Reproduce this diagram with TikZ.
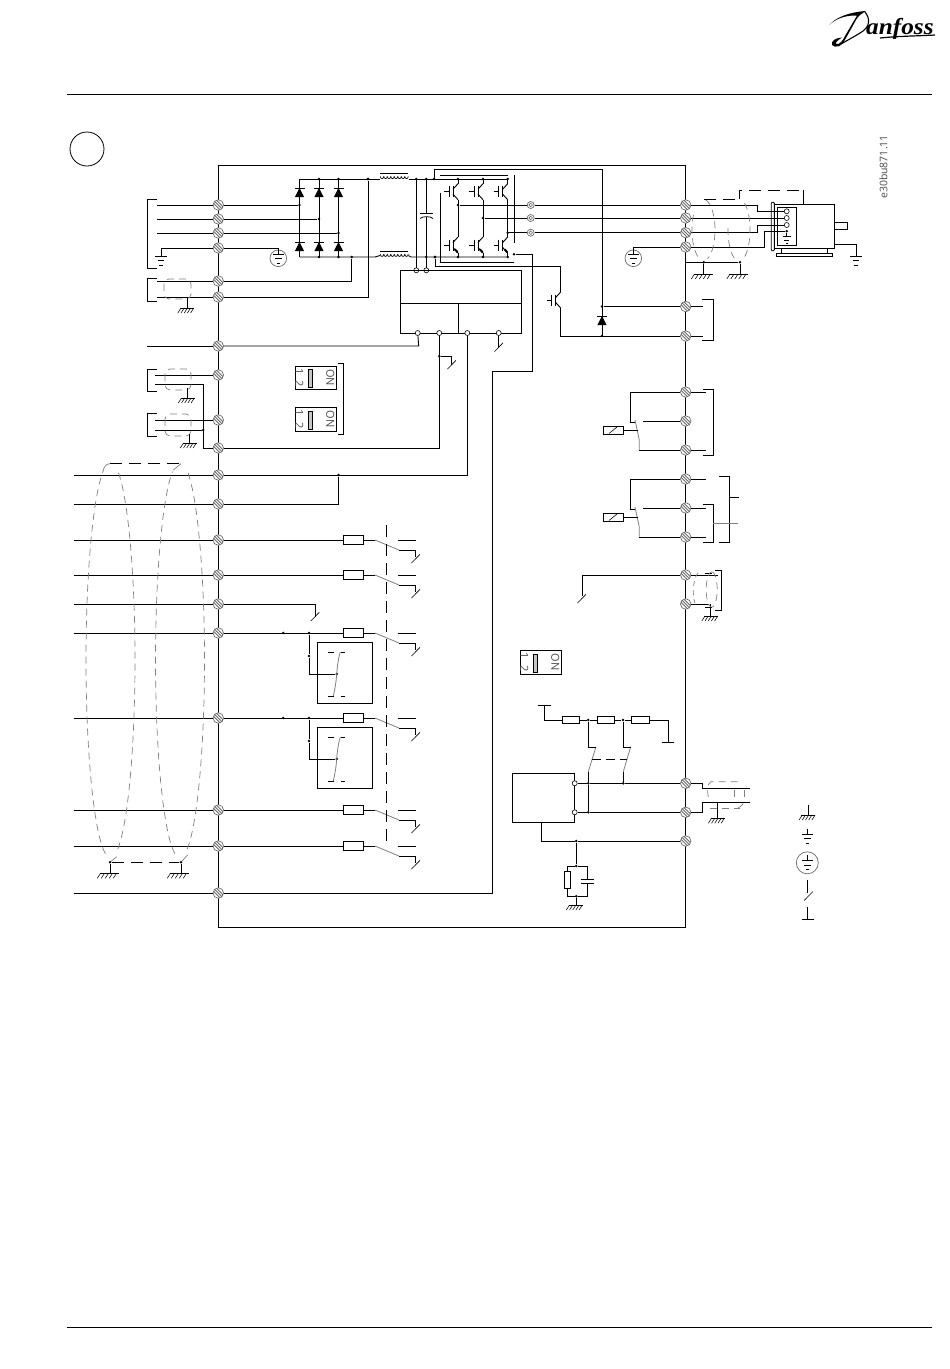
\documentclass[tikz,border=0pt]{standalone}
\usepackage{fontspec}
\usepackage{graphicx}
\setmainfont{Open Sans}
\newfontfamily\logofont{Liberation Serif}
\definecolor{tgray}{gray}{0.42}
\definecolor{sgray}{gray}{0.5}
\definecolor{textgray}{gray}{0.3}
\tikzset{
  wire/.style={line width=0.9pt,black},
  gwire/.style={line width=0.8pt,sgray},
  shld/.style={line width=0.7pt,sgray,dash pattern=on 7pt off 5pt},
  bdash/.style={line width=0.9pt,black,dash pattern=on 12pt off 7pt},
  term/.style={circle,draw=tgray,fill=white,inner sep=0pt,minimum size=10.5pt,line width=0.7pt,
    path picture={\draw[tgray,line width=0.9pt] (-6,-9)--(6,3) (-6,-6)--(6,6) (-6,-3)--(6,9);}},
  opn/.style={circle,draw=black,fill=white,inner sep=0pt,minimum size=5pt,line width=0.6pt},
  outc/.style={circle,draw=tgray,fill=white,inner sep=0pt,minimum size=7pt,line width=0.7pt,
    path picture={\draw[tgray,line width=0.6pt] (0,0) circle[radius=1.8pt];}},
  jdot/.style={circle,fill=black,inner sep=0pt,minimum size=2.8pt},
  fusebox/.style={rectangle,draw=black,fill=white,inner sep=0pt,minimum width=20.5pt,minimum height=8.5pt,line width=0.85pt},
  resbox/.style={rectangle,draw=black,fill=white,inner sep=0pt,minimum width=17.5pt,minimum height=6.5pt,line width=0.85pt},
  diptext/.style={font=\fontsize{11}{11}\selectfont,text=textgray,rotate=-90,inner sep=0pt},
  pics/hgnd/.style={code={
    \draw[wire] (-7,0)--(7,0);
    \foreach \k in {-6,-2.8,0.4,3.6,6.8} {\draw[line width=0.55pt] (\k,0)--(\k-3.2,5);}
  }},
  pics/hgndw/.style={code={
    \draw[wire] (-9.5,0)--(9.5,0);
    \foreach \k in {-8.5,-4.5,-0.5,3.5,7.5} {\draw[line width=0.55pt] (\k,0)--(\k-3.2,5);}
  }},
  pics/egnd/.style={code={
    \draw[wire] (-5.7,0)--(5.7,0) (-3.3,4.6)--(3.3,4.6) (-1.7,9)--(1.7,9);
  }},
  pics/slash/.style={code={\draw[line width=0.6pt] (-4.3,4.4)--(4.3,-4.4);}},
  pics/diodeup/.style={code={
    \draw[wire] (-5,0)--(5,0);
    \fill (0,0)--(4.6,9)--(-4.6,9)--cycle;
  }},
  pics/igbt/.style={code={
    \draw[wire] (-14,0)--(-9,0) (-9,-5.5)--(-9,5.5) (-5,-5.5)--(-5,5.5);
    \draw[wire] (-5,-2.5)--(0,-8) (-5,2.5)--(0,8);
  }},
  pics/igbtarrow/.style={code={\draw[line width=2pt] (-3.2,4.2)--(-0.4,7.3);}},
}
\newcommand{\indcoil}[2]{%
  \foreach \cx in {0,3.5,...,24.5} {
    \draw[line width=0.7pt] ({#1+\cx},#2) .. controls ({#1+\cx+0.3},{#2+2.8}) and ({#1+\cx+3.2},{#2+2.8}) .. ({#1+\cx+3.5},#2);
  }%
}
\newcommand{\lobe}[6]{\draw[shld] plot[domain=#5:#6,samples=70] ({#1+#3*cos(\x)},{#2-#4*sin(\x)});}
\newcommand{\fuserow}[2]{%
  \node[fusebox] (#1f) at (353.5,#2) {};
  \draw[wire] (#1) -- (#1f);
  \draw[wire] (#1f) -- (375,#2);
  \draw[gwire] (375,#2) -- (399,{#2+10});
  \draw[wire] (399,{#2+10}) -- (415.7,{#2+10}) -- (415.7,{#2+17});
  \draw[wire] (398.3,#2) -- (415.7,#2);
  \pic at (415.7,{#2+18.7}) {slash};
}
\newcommand{\nrelay}[4]{% #1 top terminal, #2 mid terminal, #3 bottom terminal, #4 offset
  \draw[wire] (#1) -- (630.3,{392+#4}) -- (630.3,{422.3+#4}) -- (635,{422.3+#4});
  \draw[gwire] (635,{420+#4}) -- (639.3,{440+#4}) -- (639.3,{450+#4});
  \draw[wire] (639.3,{450+#4}) -- (#3);
  \draw[wire] (#2) -- (643.3,{421+#4});
  \node[rectangle,draw=black,fill=white,minimum width=20pt,minimum height=8pt,inner sep=0pt,line width=0.85pt] (coil#4) at (613.3,{430.3+#4}) {};
  \draw[line width=0.6pt] (609,{433.5+#4}) -- (617,{427+#4});
  \draw[wire] (coil#4) -- (637.7,{430.3+#4});
}
\newcommand{\dipswitch}[3]{% name, x left, y top
  \node[rectangle,draw=black,line width=0.8pt,minimum width=41pt,minimum height=23.5pt,inner sep=0pt] (#1) at ({#2+20.5},{#3+11.75}) {};
  \fill[gray!45] ({#2+13},{#3+3.5}) rectangle ({#2+16.5},{#3+21.5});
  \draw[line width=0.6pt] ({#2+13},{#3+3.5}) rectangle ({#2+16.5},{#3+21.5});
  \node[diptext] at ({#2+4},{#3+11.75}) {1\hspace{3.6pt} 2};
  \node[diptext] at ({#2+35},{#3+11.75}) {ON};
}
\newcommand{\logicsw}[2]{% terminal, y
  \node[jdot] (#1a) at (283.3,#2) {};
  \node[jdot] (#1b) at (309,#2) {};
  \node[rectangle,draw=black,line width=0.85pt,minimum width=54.6pt,minimum height=61pt,inner sep=0pt] (#1box) at (345,{#2+39.5}) {};
  \node[jdot] (#1c) at (309,{#2+23}) {};
  \node[jdot] (#1d) at (336.7,{#2+41}) {};
  \draw[wire] (#1b) -- (#1c);
  \draw[wire] (#1c) -- (309,{#2+41}) -- (#1d);
  \draw[gwire] (340.3,{#2+19}) .. controls (337.5,{#2+28}) and (337,{#2+38}) .. (336.7,{#2+41}) .. controls (336.3,{#2+48}) and (335,{#2+56}) .. (333.3,{#2+63});
  \draw[wire] (328,{#2+19}) -- (334,{#2+19}) (341,{#2+19}) -- (345.3,{#2+19});
  \draw[wire] (328,{#2+63}) -- (334,{#2+63}) (341,{#2+63}) -- (345.3,{#2+63});
}
\begin{document}
\begin{tikzpicture}[x=1pt,y=-1pt]
\useasboundingbox (0,0) rectangle (950,1369);
\fill[white] (0,0) rectangle (950,1369);

% header / footer
\node[inner sep=0pt,minimum width=865pt,minimum height=0pt] (headrule) at (499.5,94.7) {};
\draw[line width=0.8pt] (headrule.west) -- (headrule.east);
\node[inner sep=0pt,minimum width=865pt,minimum height=0pt] (footrule) at (499.5,1327.7) {};
\draw[line width=0.8pt] (footrule.west) -- (footrule.east);
\node[circle,draw=black,line width=0.8pt,minimum size=34pt,inner sep=0pt] (badge) at (87,149) {};
\node[rotate=90,font=\fontsize{10.5}{11}\selectfont,text=textgray,inner sep=0pt] (code) at (883.5,167) {e30bu871.11};

% logo
\fill[black] (829.3,25) .. controls (836,17) and (850,12) .. (866,11) .. controls (861,14) and (858,16) .. (856,20)
  -- (846,38) .. controls (842,46) and (835,49) .. (832,45) .. controls (831,41) and (835,38) .. (842,37.5)
  .. controls (839,39.5) and (835,42) .. (836,44) .. controls (840,45) and (843,40) .. (845,36)
  -- (857,15.5) .. controls (846,15) and (835,19) .. (829.3,25) -- cycle;
\draw[line width=1.1pt] (865,12) .. controls (870,18) and (871,27) .. (860,33) .. controls (852,38) and (844,42) .. (838,46);
\node[inner sep=0pt,anchor=base west] (logotext) at (866,34) {\scalebox{1.1}[1]{\logofont\bfseries\itshape\fontsize{23}{23}\selectfont anfoss}};
\draw[line width=1.2pt] (880,38) .. controls (900,36) and (918,36) .. (935,35);

% frame
\node[rectangle,draw=black,line width=0.9pt,minimum width=467.5pt,minimum height=761.5pt,inner sep=0pt] (frame) at (452,546.25) {};

% terminals
\foreach \n/\yy in {L1/205,L2/219,L3/233,L4/248,L5/281,L6/297,L7/346,L8/375,L9/420,L10/448,L11/475,L12/504,L13/540,L14/575,L15/604,L16/633,L17/718,L18/810,L19/846,L20/893}
  {\node[term] (\n) at (218.3,\yy) {};}
\foreach \n/\yy in {R1/205,R2/218,R3/232.7,R4/247,R5/306.5,R6/336,R7/392,R8/421,R9/450,R10/479,R11/508,R12/537,R13/575,R14/604,R15/783.3,R16/812.3,R17/841}
  {\node[term] (\n) at (685.7,\yy) {};}

% mains bracket and wires
\draw[wire] (157,199) -- (147.5,199) -- (147.5,268) -- (157,268);
\foreach \n/\yy in {L1/205,L2/219,L3/233} {\draw[wire] (157,\yy) -- (\n);}
\draw[wire] (L4) -- (161,248) -- (161,256);
\pic at (161,256) {egnd};
\node[circle,draw=tgray,line width=0.7pt,minimum size=16.6pt,inner sep=0pt] (earthL) at (278.3,258.3) {};
\draw[wire] (L4) -- (278.3,248) -- (278.3,254);
\pic at (278.3,254) {egnd};

% rectifier
\foreach \n/\xx/\yy in {a/299.5/205,b/319/219,c/338.5/233}{
  \node[jdot] (rec\n) at (\xx,\yy) {};
  \draw[wire] (\xx,179) -- (\xx,256.7);
  \pic at (\xx,188) {diodeup};
  \pic at (\xx,242) {diodeup};
}
\draw[wire] (L1) -- (reca);
\draw[wire] (L2) -- (recb);
\draw[wire] (L3) -- (recc);
\foreach \xx in {319,338.5,368,416.3,426.3,434,458,483,507.7} {\node[jdot] at (\xx,179) {};}
\foreach \xx in {319,338.5,426.3,435,458,483,507.7} {\node[jdot] at (\xx,257) {};}
\node[jdot] (botj) at (351.7,257) {};
\node[jdot] (topj) at (368,179) {};
\draw[wire] (299.5,179) -- (380,179);
\draw[wire] (408.5,179) -- (507.7,179);
\draw[wire] (299.5,257) -- (375,257) -- (380,255.5);
\draw[wire] (408.5,255.5) -- (411,257) -- (508,257);
\draw[wire] (380.3,173.5) -- (408.3,173.5);
\draw[wire] (380.3,251.5) -- (408.3,251.5);
\indcoil{380.3}{176.5}
\indcoil{380.3}{254.3}

% shielded brake input
\draw[wire] (157,278) -- (147.5,278) -- (147.5,301) -- (157,301);
\draw[wire] (157,281) -- (L5);
\draw[wire] (157,297) -- (L6);
\draw[shld,rounded corners=5pt] (164,279) rectangle (191,299);
\draw[wire] (187,298) -- (187,308);
\pic at (187,308) {hgnd};
\draw[wire] (L5) -- (351.7,281) -- (botj);
\draw[wire] (L6) -- (368,297) -- (topj);

% DC link
\node[opn] (dca) at (416.3,270.3) {};
\node[opn] (dcb) at (426.3,270.3) {};
\draw[wire] (416.3,179) -- (dca);
\draw[wire] (426.3,179) -- (426.3,213.7);
\draw[wire] (420,213.7) -- (433,213.7);
\draw[line width=0.75pt] (420,218.5) .. controls (423,216) and (430,216) .. (433,218.5);
\draw[wire] (426.3,216.8) -- (dcb);

% control box
\node[rectangle,draw=black,line width=0.85pt,minimum width=121pt,minimum height=62.7pt,inner sep=0pt] (ctrl) at (460.8,301.65) {};
\draw[wire] (ctrl.west |- 0,303.3) -- (ctrl.east |- 0,303.3);
\draw[wire] (458.3,303.3) -- (458.3,333);
\node[opn] (cb1) at (417.7,333) {};
\node[opn] (cb2) at (439.3,333) {};
\node[opn] (cb3) at (467.3,333) {};
\node[opn] (cb4) at (498.7,333) {};
\draw[wire] (L7) -- (418.7,346) -- (cb1);
\draw[wire] (147,346) -- (L7);
\draw[wire] (L10) -- (439.3,448) -- (cb2);
\draw[wire] (L11) -- (467.3,475) -- (cb3);
\node[jdot] (cbj) at (439.3,356.3) {};
\draw[wire] (cbj) -- (451.7,356.3) -- (451.7,365);
\pic at (451.7,364.7) {slash};
\draw[wire] (cb4) -- (498.7,347);
\pic at (498.7,347.2) {slash};

% inverter
\draw[wire] (458,179) -- (458,184);
\draw[wire] (483,179) -- (483,184);
\draw[wire] (507.7,179) -- (507.7,184);
\foreach \xx in {458,483,507.7}{
  \pic at (\xx,191.7) {igbt};
  \pic at (\xx,245) {igbt};
  \pic at (\xx,245) {igbtarrow};
  \draw[wire] (\xx,199.7) -- (\xx,237);
  \draw[wire] (\xx,253) -- (\xx,257);
}
\draw[wire] (440,175) -- (508.3,175);
\draw[wire] (514.3,175) -- (514.3,243);
\draw[wire] (440,193.3) -- (440,262.3) -- (514.3,262.3);
\node[jdot] (oa) at (458,205) {};
\node[jdot] (ob) at (483,218) {};
\node[jdot] (oc) at (507.7,232.7) {};
\node[outc] (ca) at (530.7,205) {};
\node[outc] (cb) at (530.7,218) {};
\node[outc] (cc) at (530.7,232.7) {};
\draw[wire] (oa) -- (ca);
\draw[wire] (ob) -- (cb);
\draw[wire] (oc) -- (cc);
\draw[wire] (ca) -- (R1);
\draw[wire] (cb) -- (R2);
\draw[wire] (cc) -- (R3);
% earth on the right
\node[circle,draw=tgray,line width=0.7pt,minimum size=16.6pt,inner sep=0pt] (earthR) at (633.3,258.3) {};
\draw[wire] (R4) -- (633.3,247) -- (633.3,254);
\pic at (633.3,254) {egnd};

% brake
\draw[wire] (434,179) -- (434,169.3) -- (602,169.3) -- (602,336);
\node[jdot] (bj1) at (602,306.5) {};
\node[jdot] (bj2) at (602,336) {};
\draw[wire] (bj1) -- (R5);
\pic at (602,316) {diodeup};
\node[jdot] (bj0) at (435,257) {};
\draw[wire] (bj0) -- (435,266.7) -- (560.7,266.7) -- (560.7,292);
\pic at (560.7,300) {igbt};
\draw[wire] (560.7,308) -- (560.7,336) -- (R6);
\node[jdot] (vdc) at (514,254.3) {};
\draw[wire] (L20) -- (492.3,893) -- (492.3,371) -- (532.3,371) -- (532.3,254.3) -- (vdc);

% motor
\node[rectangle,draw=black,line width=0.85pt,minimum width=60pt,minimum height=43.6pt,inner sep=0pt] (mbody) at (804.3,226.5) {};
\node[rectangle,draw=black,line width=0.85pt,minimum width=19.4pt,minimum height=38.4pt,inner sep=0pt] (mbox) at (787,226.5) {};
\node[rectangle,rounded corners=1pt,draw=black,fill=white,line width=0.85pt,minimum width=3.2pt,minimum height=48.4pt,inner sep=0pt] (mflange) at (772.8,226.5) {};
\node[opn] (m1) at (786.7,211.3) {};
\node[opn] (m2) at (786.7,218) {};
\node[opn] (m3) at (786.7,225) {};
\node[jdot] (m4) at (786.7,231.3) {};
\draw[wire] (R1) -- (757.3,205) -- (757.3,211.3) -- (m1);
\draw[wire] (R2) -- (m2);
\draw[wire] (R3) -- (757.3,232.7) -- (757.3,225) -- (m3);
\draw[wire] (R4) -- (764.3,247) -- (764.3,231.3) -- (m4);
\draw[wire] (m4) -- (786.7,236.7);
\draw[wire] (782.7,236.7) -- (790.7,236.7) (784,240.5) -- (789.4,240.5) (785.5,243.5) -- (788,243.5);
\draw[wire] (834.3,222) -- (847.3,222) -- (847.3,229.3) -- (834.3,229.3);
\draw[wire] (781,248.3) -- (781,254) (827.3,248.3) -- (827.3,254);
\node[rectangle,draw=black,line width=0.85pt,minimum width=56.4pt,minimum height=2.6pt,inner sep=0pt] (mbase) at (804.5,255.2) {};
\draw[wire] (834.3,244.3) -- (856,244.3) -- (856,256.3);
\pic at (856,256.3) {egnd};
% motor shield
\draw[bdash] (704,199.3) -- (739,199.3);
\draw[bdash] (739,199.3) -- (739,190.3) -- (803.3,190.3);
\draw[wire] (803.3,190.3) -- (803.3,204.7);
\lobe{703.5}{230}{11.5}{30.5}{80}{-70}
\lobe{703.5}{230}{11.5}{30.5}{240}{150}
\lobe{739}{230}{11}{31}{60}{-60}
\lobe{739}{230}{11}{31}{245}{170}
\node[jdot] (shg1) at (703.7,262.3) {};
\node[jdot] (shg2) at (740,262.3) {};
\draw[wire] (685.7,262.3) -- (shg2);
\draw[wire] (shg1) -- (703.7,274);
\draw[wire] (shg2) -- (740,274);
\pic at (703,274) {hgndw};
\pic at (738.5,274) {hgndw};

% brake bracket
\draw[wire] (702.3,299.3) -- (713.3,299.3) -- (713.3,340.3) -- (702.3,340.3);
\draw[wire] (R5) -- (703,306.5);
\draw[wire] (R6) -- (703,336);

% input groups with analog wiring
\draw[wire] (157,369.3) -- (147.3,369.3) -- (147.3,391.3) -- (157,391.3);
\draw[wire] (155.3,375) -- (L8);
\draw[wire] (155.3,384.3) -- (203.3,384.3) -- (203.3,448) -- (L10);
\draw[shld,rounded corners=5pt] (165,369) rectangle (191,390);
\draw[wire] (187,388) -- (187,398);
\pic at (187.5,398) {hgnd};
\draw[wire] (157,413.3) -- (147.3,413.3) -- (147.3,436.3) -- (157,436.3);
\draw[wire] (155.3,420) -- (L9);
\node[jdot] (ainj) at (203.3,430) {};
\draw[wire] (155.3,430) -- (ainj);
\draw[shld,rounded corners=5pt] (165,414) rectangle (191,436);
\draw[wire] (189.5,434) -- (189.5,443);
\pic at (189.5,443) {hgnd};

% DIP switches
\dipswitch{dipa}{295.3}{366}
\dipswitch{dipb}{295.3}{407.5}
\draw[wire] (338.3,363.3) -- (343,363.3) -- (343,434.3) -- (338.3,434.3);
\dipswitch{dipc}{520.3}{650.5}

% digital inputs
\foreach \n/\yy in {L11/475,L12/504,L13/540,L14/575,L15/604,L16/633,L17/718,L18/810,L19/846,L20/893}
  {\draw[wire] (74,\yy) -- (\n);}
\node[jdot] (d24) at (338.5,475) {};
\draw[wire] (L12) -- (338.5,504) -- (d24);
\fuserow{L13}{540}
\fuserow{L14}{575}
\draw[wire] (L15) -- (315.3,604) -- (315.3,616.5);
\pic at (315,616.7) {slash};
\fuserow{L16}{633}
\fuserow{L17}{718}
\fuserow{L18}{810}
\fuserow{L19}{846}
\logicsw{L16}{633}
\logicsw{L17}{718}
\draw[bdash] (386.7,525) -- (386.7,842);

% large shield
\lobe{110.5}{660}{24.5}{198}{71}{-75}
\lobe{110.5}{660}{24.5}{198}{258}{107}
\lobe{180}{660}{24.5}{198}{71}{-75}
\lobe{180}{660}{24.5}{198}{258}{108}
\draw[sgray,line width=0.7pt] (103,471) .. controls (104,467) and (106,463.7) .. (110,463.7);
\draw[bdash] (110,463.7) -- (182,463.7);
\draw[sgray,line width=0.7pt] (173.3,470) -- (181,463.7);
\draw[sgray,line width=0.7pt] (116.7,856.7) -- (110,862.3) (187.5,855) -- (181,862.3);
\node[jdot] (gs1) at (110,862.3) {};
\node[jdot] (gs2) at (181,862.3) {};
\draw[bdash] (gs1) -- (gs2);
\draw[wire] (gs1) -- (110,873);
\draw[wire] (gs2) -- (181,873);
\pic at (109,873.3) {hgndw};
\pic at (179,873.3) {hgndw};

% relays
\draw[wire] (702.7,389) -- (713.3,389) -- (713.3,455.3) -- (702.7,455.3);
\draw[wire] (R7) -- (705.7,392);
\draw[wire] (R9) -- (705.7,450);
\nrelay{R7}{R8}{R9}{0}
\nrelay{R10}{R11}{R12}{87}
\draw[wire] (R10) -- (705.7,479);
\draw[wire] (R11) -- (705.7,508);
\draw[wire] (R12) -- (705.7,537);
\draw[wire] (702.7,504.3) -- (713.3,504.3) -- (713.3,542.3) -- (702.7,542.3);
\draw[wire] (719.3,476) -- (729,476) -- (729,542.3) -- (719.3,542.3);
\draw[wire] (729,497.3) -- (739,497.3);
\draw[gwire] (713.3,523.3) -- (738.3,523.3);

% analog output
\draw[wire] (R13) -- (582,575) -- (582,596);
\pic at (581.7,598.7) {slash};
\draw[wire] (R13) -- (718,575);
\draw[wire] (R14) -- (709,604);
\draw[wire] (715,570.3) -- (721,570.3) -- (721,610) -- (715,610);
\draw[wire] (705,573.3) -- (711.7,573.3) (705,607.7) -- (711.7,607.7);
\draw[wire] (710,604) -- (710,616);
\pic at (711,616) {hgnd};
\draw[shld,dash pattern=on 5pt off 4pt] (698,573) .. controls (693,578) and (692,596) .. (695,603);
\lobe{711.7}{589.5}{5.5}{17.5}{90}{-270}

% RS485
\node[rectangle,draw=black,line width=0.85pt,minimum width=62.4pt,minimum height=49pt,inner sep=0pt] (rsbox) at (543.5,797.8) {};
\node[opn] (rsa) at (574.7,783.3) {};
\node[opn] (rsb) at (574.7,812.3) {};
\node[jdot] (rsj1) at (588.3,783.3) {};
\node[jdot] (rsj2) at (623.3,783.3) {};
\node[jdot] (rsj3) at (588.3,812.3) {};
\draw[wire] (rsa) -- (rsj1);
\draw[wire] (rsj1) -- (rsj2);
\draw[wire] (rsj2) -- (R15);
\draw[wire] (rsb) -- (rsj3);
\draw[wire] (rsj3) -- (R16);
\draw[wire] (rsj1) -- (rsj3);
\draw[wire] (rsj1) -- (588.3,771.7);
\draw[wire] (rsj2) -- (623.3,771.7);
\draw[gwire] (588.3,771.7) -- (596,746.7);
\draw[gwire] (623.3,771.7) -- (630.7,746.7);
\draw[bdash,dash pattern=on 9pt off 5pt] (592.3,759) -- (626.7,759);
% resistor chain
\draw[wire] (538.3,705.3) -- (551,705.3);
\node[resbox] (res1) at (571,720) {};
\node[resbox] (res2) at (606,720) {};
\node[resbox,minimum width=18.4pt] (res3) at (640.5,720) {};
\node[jdot] (rj1) at (588.3,720) {};
\node[jdot] (rj2) at (623,720) {};
\draw[wire] (544.3,705.3) -- (544.3,720) -- (res1);
\draw[wire] (res1) -- (rj1);
\draw[wire] (rj1) -- (res2);
\draw[wire] (res2) -- (rj2);
\draw[wire] (rj2) -- (res3);
\draw[wire] (res3) -- (668.3,720) -- (668.3,742.3);
\draw[wire] (662.3,742.3) -- (674,742.3);
\draw[wire] (rj1) -- (588.3,747.3) -- (596,747.3);
\draw[wire] (rj2) -- (623,747.3) -- (630.7,747.3);
% common and RC
\node[jdot] (rcj) at (576.3,841) {};
\draw[wire] (541.7,822.3) -- (541.7,841) -- (rcj);
\draw[wire] (rcj) -- (R17);
\node[jdot] (rct) at (576.3,866) {};
\node[jdot] (rcb) at (576.3,896.3) {};
\draw[wire] (rcj) -- (rct);
\draw[wire] (rct) -- (567.3,866) -- (567.3,871.7);
\node[rectangle,draw=black,fill=white,line width=0.85pt,minimum width=6.7pt,minimum height=16.6pt,inner sep=0pt] (rcr) at (567.3,880) {};
\draw[wire] (rcr) -- (567.3,896.3) -- (rcb);
\draw[wire] (rct) -- (587.3,866) -- (587.3,879.7);
\draw[wire] (587.3,883.7) -- (587.3,896.3) -- (rcb);
\draw[wire] (581,879.7) -- (594,879.7) (581,883.7) -- (594,883.7);
\draw[wire] (rcb) -- (576.3,905);
\pic at (575.5,905) {hgnd};
% RS485 cable
\draw[wire] (R15) -- (702.3,783.3) -- (702.3,788.3) -- (750,788.3);
\draw[wire] (R16) -- (702.3,812.3) -- (702.3,802.3) -- (750,802.3);
\draw[shld] (708.3,797) .. controls (707,790) and (707,784) .. (711,781.7) -- (741.7,781.7);
\draw[shld] (710,808.3) -- (740,808.3);
\draw[shld] (734.3,790) -- (734.3,797) (744.3,790) -- (744.3,797);
\draw[shld] (738,808) .. controls (742,806) and (744,803) .. (744.5,800);
\draw[wire] (717.3,802.3) -- (717.3,818.3);
\pic at (717.5,818.3) {hgnd};

% legend
\draw[wire] (808.3,805) -- (808.3,815);
\pic at (808.3,815) {hgnd};
\draw[wire] (807.5,829.3) -- (807.5,834.3);
\pic at (807.5,834.3) {egnd};
\node[circle,draw=tgray,line width=0.7pt,minimum size=22pt,inner sep=0pt] (earthlg) at (807.3,862.8) {};
\draw[wire] (807.3,855) -- (807.3,860.5);
\pic at (807.3,860.5) {egnd};
\draw[wire] (807.3,880) -- (807.3,893);
\pic at (808.5,896) {slash};
\draw[wire] (807.7,907.3) -- (807.7,919);
\draw[wire] (802,919) -- (814,919);
\end{tikzpicture}
\end{document}
